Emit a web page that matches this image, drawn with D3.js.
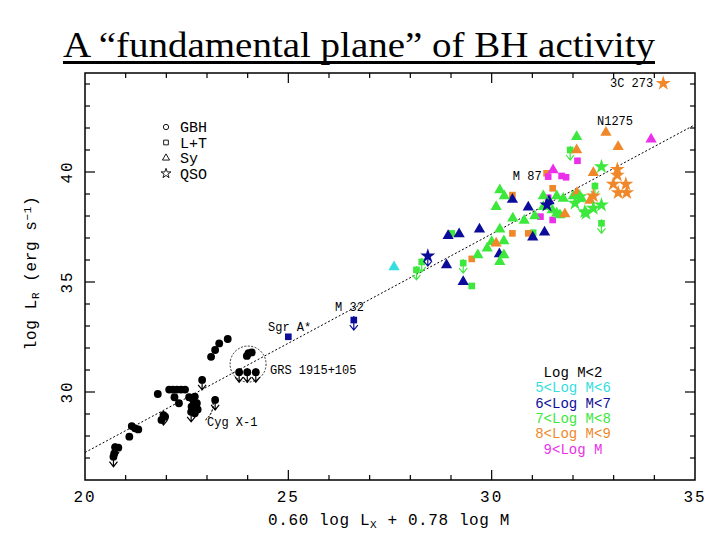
<!DOCTYPE html>
<html>
<head>
<meta charset="utf-8">
<script src="https://cdn.jsdelivr.net/npm/d3@7"></script>
<style>
  body { margin: 0; background: #fff; }
  svg { display: block; }
</style>
</head>
<body>
<script>
var w = 720,
    h = 540;

// legend lines for the colour code, and the four source classes
var massBins = ["Log M<2", "5<Log M<6", "6<Log M<7", "7<Log M<8", "8<Log M<9", "9<Log M"];
var classes = ["GBH", "L+T", "Sy", "QSO"];
var xTicks = [20, 25, 30, 35];
var yTicks = [30, 35, 40];

// [0.60 log Lx + 0.78 log M, log L_R, mass bin, upper limit]
var gbh = [
  [23.51, 32.41, 0, 0], [23.30, 32.21, 0, 0], [23.20, 31.91, 0, 0], [23.10, 31.60, 0, 0],
  [24.02, 31.76, 0, 0], [24.10, 31.80, 0, 0], [23.98, 31.64, 0, 0],
  [23.79, 30.90, 0, 1], [23.99, 30.90, 0, 1], [24.20, 30.90, 0, 1],
  [22.88, 30.55, 0, 1], [23.20, 29.64, 0, 1], [21.79, 29.91, 0, 0],
  [22.07, 30.11, 0, 0], [22.16, 30.11, 0, 0], [22.26, 30.11, 0, 0], [22.36, 30.11, 0, 0], [22.46, 30.11, 0, 0],
  [22.20, 29.76, 0, 0], [22.31, 29.49, 0, 0],
  [22.56, 29.76, 0, 0], [22.70, 29.79, 0, 0], [22.75, 29.49, 0, 0], [22.62, 29.33, 0, 0],
  [22.77, 29.21, 0, 0], [22.61, 29.10, 0, 1], [22.70, 29.03, 0, 0], [22.66, 29.64, 0, 0],
  [21.93, 28.95, 0, 1], [21.97, 28.88, 0, 0], [21.88, 28.73, 0, 0],
  [21.15, 28.45, 0, 0], [21.23, 28.35, 0, 0], [21.31, 28.30, 0, 0], [21.09, 27.97, 0, 0],
  [20.74, 27.49, 0, 1], [20.82, 27.47, 0, 0], [20.72, 27.21, 0, 0], [20.70, 27.06, 0, 1]
];

var linerT = [
  [25.00, 32.51, 2, 0], [26.61, 33.27, 2, 1],
  [31.02, 37.24, 3, 0], [29.02, 37.21, 3, 0], [29.51, 34.82, 3, 0],
  [28.15, 35.55, 3, 1], [28.28, 35.91, 3, 1], [29.30, 35.86, 3, 1],
  [32.70, 37.67, 3, 1], [32.54, 39.36, 3, 1], [31.93, 41.00, 3, 1],
  [30.51, 38.95, 4, 0], [30.51, 37.21, 4, 0], [30.90, 37.21, 4, 0],
  [31.50, 39.26, 4, 0], [31.35, 39.94, 4, 0], [29.51, 36.05, 4, 0],
  [32.11, 40.51, 5, 0], [31.39, 39.79, 5, 0], [31.72, 39.82, 5, 0], [31.83, 39.76, 5, 0],
  [31.20, 37.97, 5, 0], [31.50, 37.82, 5, 0], [31.39, 38.83, 5, 0]
];

var seyfert = [
  [27.60, 35.68, 1, 0],
  [28.89, 35.77, 2, 0], [29.30, 35.01, 2, 0], [28.93, 37.10, 2, 0], [29.20, 37.18, 2, 0],
  [29.70, 37.40, 2, 0], [30.19, 36.27, 2, 0], [30.51, 38.75, 2, 0], [30.90, 38.40, 2, 0],
  [31.01, 37.03, 2, 0], [31.30, 37.26, 2, 0], [31.41, 38.68, 2, 0],
  [30.20, 39.18, 3, 0], [30.31, 38.91, 3, 0], [30.11, 38.42, 3, 0], [30.20, 37.40, 3, 0],
  [30.52, 37.90, 3, 0], [30.80, 37.79, 3, 0], [31.06, 38.00, 3, 0], [31.27, 38.91, 3, 0],
  [31.60, 38.91, 3, 0], [31.76, 38.80, 3, 0], [32.01, 38.91, 3, 0], [31.27, 38.42, 3, 0],
  [31.49, 38.27, 3, 0], [31.68, 38.05, 3, 0], [31.60, 38.12, 3, 0], [32.09, 41.60, 3, 0],
  [30.00, 36.83, 3, 0], [29.89, 36.53, 3, 0], [30.30, 36.23, 3, 0], [30.20, 35.92, 3, 0],
  [30.30, 36.86, 3, 0], [29.66, 36.23, 3, 0], [32.21, 38.80, 3, 0],
  [32.81, 41.80, 4, 0], [33.11, 41.15, 4, 0], [32.50, 39.97, 4, 0], [32.10, 39.06, 4, 0],
  [31.80, 38.09, 4, 0], [32.09, 41.00, 4, 0], [30.11, 36.76, 4, 0], [32.42, 38.70, 4, 0],
  [33.92, 41.49, 5, 0], [31.51, 40.09, 5, 0]
];

var qso = [
  [28.43, 36.18, 2, 1], [31.36, 38.50, 2, 0],
  [32.17, 38.88, 3, 0], [32.29, 38.20, 3, 0], [32.70, 40.24, 3, 0], [32.70, 38.50, 3, 0],
  [32.50, 38.35, 3, 0], [32.32, 38.12, 3, 0], [32.05, 38.58, 3, 0],
  [34.22, 44.03, 4, 0], [33.09, 40.12, 4, 0], [33.09, 39.86, 4, 0], [32.99, 39.45, 4, 0],
  [33.30, 39.45, 4, 0], [33.11, 39.06, 4, 0], [33.32, 39.06, 4, 0], [32.50, 38.91, 4, 0]
];

// best fit plane, log L_R = 0.60 log Lx + 0.78 log M + 7.33
var fitX = [20, 35];
var fitY = [27.25, 42.15];

// named sources: [label, x, y]
var names = [
  ["3C 273", 32.91, 43.86], ["N1275", 32.59, 42.14], ["M 87", 30.52, 39.64],
  ["M 32", 26.15, 33.68], ["Sgr A*", 24.50, 32.77], ["GRS 1915+105", 24.55, 30.82],
  ["Cyg X-1", 23.00, 28.45]
];

var colors = ["#000000", "#35dede", "#0c0c9a", "#3ce83c", "#f0882a", "#ea30ea"];
var mono = "'Liberation Mono', 'DejaVu Sans Mono', monospace";

var x = d3.scaleLinear().domain([20, 35]).range([85, 695]);
var y = d3.scaleLinear().domain([26, 44.5]).range([480, 73]);

var svg = d3.select("body").append("svg")
    .attr("width", w)
    .attr("height", h);

// title
svg.append("text")
    .attr("x", 63).attr("y", 57)
    .attr("textLength", 592).attr("lengthAdjust", "spacingAndGlyphs")
    .style("font-family", "'Liberation Serif', 'DejaVu Serif', serif")
    .style("font-size", "36px")
    .text("A \u201cfundamental plane\u201d of BH activity");

svg.append("rect")
    .attr("x", 63).attr("y", 61)
    .attr("width", 592).attr("height", 3)
    .attr("fill", "#000");

// frame and inward ticks
svg.append("rect")
    .attr("x", x(20)).attr("y", y(44.5))
    .attr("width", x(35) - x(20)).attr("height", y(26) - y(44.5))
    .attr("fill", "none").attr("stroke", "#000").attr("stroke-width", 1.5);

var xMinor = d3.range(21, 35), yMinor = d3.range(27, 45);
function tickLen(v) { return v % 5 === 0 ? 10 : 5; }

var ticks = svg.append("g").attr("stroke", "#000").attr("stroke-width", 1.2);
xMinor.forEach(function(v) {
  ticks.append("line").attr("x1", x(v)).attr("x2", x(v))
      .attr("y1", y(26)).attr("y2", y(26) - tickLen(v));
  ticks.append("line").attr("x1", x(v)).attr("x2", x(v))
      .attr("y1", y(44.5)).attr("y2", y(44.5) + tickLen(v));
});
yMinor.forEach(function(v) {
  ticks.append("line").attr("y1", y(v)).attr("y2", y(v))
      .attr("x1", x(20)).attr("x2", x(20) + tickLen(v));
  ticks.append("line").attr("y1", y(v)).attr("y2", y(v))
      .attr("x1", x(35)).attr("x2", x(35) - tickLen(v));
});

svg.append("g").selectAll("text").data(xTicks).enter().append("text")
    .attr("x", function(d) { return x(d); })
    .attr("y", 502)
    .attr("text-anchor", "middle")
    .style("font-family", mono).style("font-size", "16px")
    .style("letter-spacing", "2px")
    .text(function(d) { return d; });

svg.append("g").selectAll("text").data(yTicks).enter().append("text")
    .attr("transform", function(d) { return "translate(72," + y(d) + ") rotate(-90)"; })
    .attr("text-anchor", "middle")
    .style("font-family", mono).style("font-size", "16px")
    .style("letter-spacing", "2px")
    .text(function(d) { return d; });

// axis titles
var xt = svg.append("text")
    .attr("x", 389).attr("y", 525)
    .attr("text-anchor", "middle")
    .style("font-family", mono).style("font-size", "16px")
    .style("letter-spacing", "0.6px");
xt.append("tspan").text("0.60 log L");
xt.append("tspan").attr("baseline-shift", "-30%").style("font-size", "11px").text("X");
xt.append("tspan").text(" + 0.78 log M");

var yt = svg.append("text")
    .attr("transform", "translate(36,273) rotate(-90)")
    .attr("text-anchor", "middle")
    .style("font-family", mono).style("font-size", "16px")
    .style("letter-spacing", "0.6px");
yt.append("tspan").text("log L");
yt.append("tspan").attr("baseline-shift", "-30%").style("font-size", "11px").text("R");
yt.append("tspan").text(" (erg s");
yt.append("tspan").attr("baseline-shift", "45%").style("font-size", "11px").text("\u22121");
yt.append("tspan").text(")");

// fit line
svg.append("line")
    .attr("x1", x(fitX[0])).attr("y1", y(fitY[0]))
    .attr("x2", x(fitX[1])).attr("y2", y(fitY[1]))
    .attr("stroke", "#000").attr("stroke-width", 1)
    .attr("stroke-dasharray", "2,2");

// marks
var shapes = [
  {data: gbh, type: d3.symbolCircle, size: 48},
  {data: linerT, type: d3.symbolSquare, size: 44},
  {data: seyfert, type: d3.symbolTriangle, size: 55},
  {data: qso, type: d3.symbolStar, size: 70}
];

var marks = svg.append("g");
shapes.forEach(function(s) {
  var g = marks.append("g");
  g.selectAll("path.pt").data(s.data).enter().append("path")
      .attr("class", "pt")
      .attr("transform", function(d) { return "translate(" + x(d[0]) + "," + y(d[1]) + ")"; })
      .attr("d", d3.symbol().type(s.type).size(s.size))
      .attr("fill", function(d) { return colors[d[2]]; });

  // upper limits: stem and open arrow head below the mark
  g.selectAll("path.lim").data(s.data.filter(function(d) { return d[3]; })).enter().append("path")
      .attr("class", "lim")
      .attr("transform", function(d) { return "translate(" + x(d[0]) + "," + y(d[1]) + ")"; })
      .attr("d", "M0,-4L0,10M-4,5L0,10L4,5")
      .attr("fill", "none")
      .attr("stroke", function(d) { return colors[d[2]]; })
      .attr("stroke-width", 1.2);
});

// GRS 1915+105 and Cyg X-1 rings
svg.append("circle")
    .attr("cx", x(24.01)).attr("cy", y(31.27)).attr("r", 18)
    .attr("fill", "none").attr("stroke", "#000").attr("stroke-width", 0.8)
    .attr("stroke-dasharray", "2,1.5");

var arc = d3.arc().innerRadius(20).outerRadius(20).startAngle(Math.PI * 0.42).endAngle(Math.PI * 0.8);
svg.append("path")
    .attr("transform", "translate(" + x(22.66) + "," + y(29.45) + ")")
    .attr("d", arc())
    .attr("fill", "none").attr("stroke", "#000").attr("stroke-width", 0.8)
    .attr("stroke-dasharray", "2,1.5");

svg.append("g").selectAll("text").data(names).enter().append("text")
    .attr("x", function(d) { return x(d[1]); })
    .attr("y", function(d) { return y(d[2]); })
    .style("font-family", mono).style("font-size", "12px")
    .text(function(d) { return d[0]; });

// class legend
var classShapes = [d3.symbolCircle, d3.symbolSquare, d3.symbolTriangle, d3.symbolStar];
var leg = svg.append("g").attr("transform", "translate(166,127)");
leg.selectAll("path").data(classes).enter().append("path")
    .attr("transform", function(d, i) { return "translate(0," + i * 15.5 + ")"; })
    .attr("d", function(d, i) { return d3.symbol().type(classShapes[i]).size(i === 3 ? 30 : 22)(); })
    .attr("fill", "none").attr("stroke", "#000").attr("stroke-width", 0.9);
leg.selectAll("text").data(classes).enter().append("text")
    .attr("x", 14)
    .attr("y", function(d, i) { return i * 15.5 + 5; })
    .style("font-family", mono).style("font-size", "15px")
    .text(function(d) { return d; });

// colour legend
svg.append("g").selectAll("text").data(massBins).enter().append("text")
    .attr("x", 573)
    .attr("y", function(d, i) { return 377 + i * 15.3; })
    .attr("text-anchor", "middle")
    .attr("fill", function(d, i) { return colors[i]; })
    .style("font-family", mono).style("font-size", "14px")
    .text(function(d) { return d; });
</script>
</body>
</html>
